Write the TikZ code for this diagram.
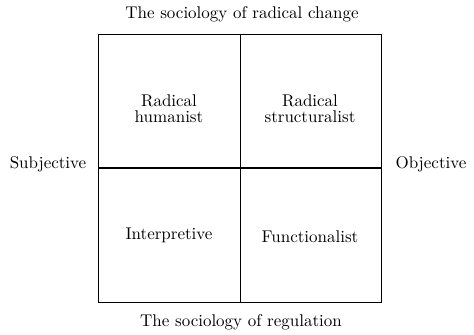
\documentclass[tikz,border=0pt]{standalone}
\usepackage{amsmath}
\usepackage{tikz}
\tikzset{every node/.style={font=\fontsize{10.7}{9.8}\selectfont},
    paradigm/.style={align=center,inner sep=0pt}}
\begin{document}
\begin{tikzpicture}[x=0.63pt,y=-0.63pt]
    \useasboundingbox (0,0) rectangle (474,335);
    %Outer square and the two axes
    \draw [semithick] (98,34) rectangle (381,302);
    \draw [semithick] (240,34) -- (240,302);
    \draw [very thick] (98,168) -- (381,168);
    %Labels of the axes
    \node (change) at (242,14) {The sociology of radical change};
    \node (regul) at (241,322) {The sociology of regulation};
    \node (subj) at (48,164) {Subjective};
    \node (obj) at (431,164) {Objective};
    %The four paradigms
    \node [paradigm] (humanist) at (169,108.5) {Radical\\humanist};
    \node [paradigm] (structural) at (310,108.5) {Radical\\structuralist};
    \node [paradigm] (interp) at (169,235) {Interpretive};
    \node [paradigm] (funct) at (310,237) {Functionalist};
\end{tikzpicture}
\end{document}
